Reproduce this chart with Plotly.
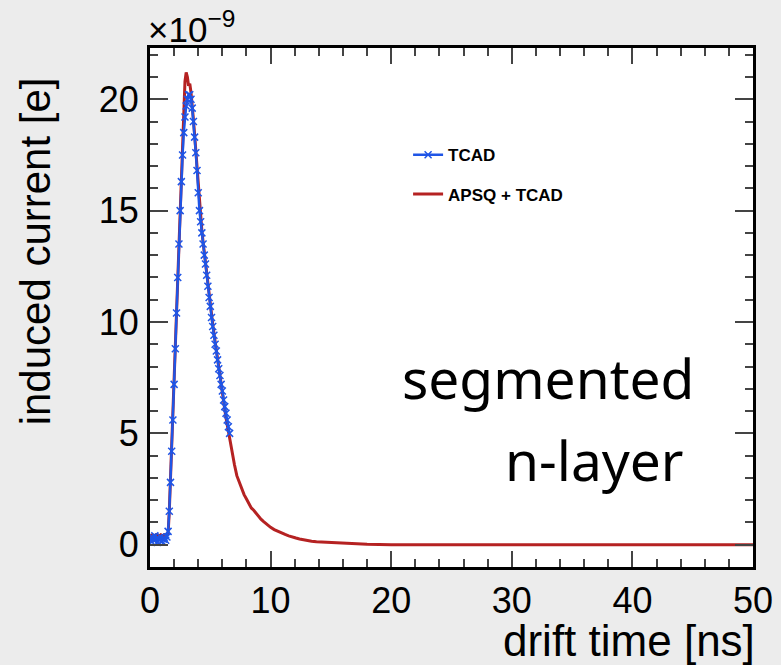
import plotly.graph_objects as go

# ---- data (values in units of 1e-9 e) ----
tcad_t = [round(0.1 * i, 1) for i in range(67)]
tcad_v = [0.30, 0.15, 0.35, 0.20, 0.40, 0.25, 0.10, 0.30, 0.20, 0.35, 0.15, 0.25, 0.30, 0.20, 0.35,
          0.60, 1.50, 2.80, 4.20, 5.60, 7.20, 8.80, 10.4, 12.0, 13.5, 15.0, 16.3, 17.5, 18.5, 19.2,
          19.7, 20.0, 20.2, 20.2, 20.0, 19.6, 19.0, 18.3, 17.6, 16.8, 15.8, 15.0, 14.5, 14.0, 13.5,
          13.0, 12.6, 12.1, 11.6, 11.1, 10.7, 10.2, 9.8, 9.4, 9.0, 8.7, 8.3, 7.9, 7.6, 7.2,
          6.9, 6.5, 6.2, 5.9, 5.6, 5.3, 5.0]

apsq_t = [0.0, 0.1, 0.2, 0.3, 0.4, 0.5, 0.6, 0.7, 0.8, 0.9, 1.0, 1.1, 1.2, 1.3, 1.4,
          1.5, 1.6, 1.7, 1.8, 1.9, 2.0, 2.1, 2.2, 2.3, 2.4, 2.5, 2.6, 2.7, 2.8, 2.9,
          3.0, 3.1, 3.2, 3.3, 3.4, 3.5, 3.6, 3.7, 3.8, 3.9, 4.0, 4.1, 4.2, 4.3, 4.4,
          4.5, 4.6, 4.7, 4.8, 4.9, 5.0, 5.1, 5.2, 5.3, 5.4, 5.5, 5.6, 5.7, 5.8, 5.9,
          6.0, 6.1, 6.2, 6.3, 6.4, 6.5, 6.6, 6.8, 7.0, 7.2, 7.4, 7.6, 7.8, 8.0, 8.2,
          8.4, 8.6, 8.8, 9.0, 9.2, 9.4, 9.6, 9.8, 10.0, 10.3, 10.6, 10.9, 11.2, 11.5, 11.8,
          12.1, 12.4, 12.7, 13.0, 13.4, 13.8, 14.2, 14.6, 15.0, 15.5, 16.0, 16.5, 17.0, 17.5, 18.0,
          19.0, 20.0, 25.0, 30.0, 35.0, 40.0, 45.0, 50.0]
apsq_v = [0.45, 0.40, 0.45, 0.42, 0.40, 0.45, 0.40, 0.43, 0.40, 0.45, 0.42, 0.40, 0.44, 0.40, 0.45,
          0.50, 1.50, 3.00, 4.50, 6.00, 7.50, 9.20, 10.8, 12.4, 14.0, 15.5, 17.0, 18.5, 19.8, 20.8,
          21.2, 21.0, 20.6, 20.7, 20.3, 19.8, 19.1, 18.4, 17.7, 16.9, 16.0, 15.2, 14.6, 14.1, 13.6,
          13.1, 12.6, 12.1, 11.7, 11.2, 10.8, 10.3, 9.9, 9.5, 9.1, 8.7, 8.3, 7.9, 7.5, 7.2,
          6.8, 6.4, 6.1, 5.7, 5.4, 5.1, 4.8, 4.1, 3.6, 3.1, 2.8, 2.5, 2.25, 2.05, 1.85,
          1.65, 1.55, 1.40, 1.28, 1.15, 1.05, 0.95, 0.85, 0.78, 0.68, 0.60, 0.52, 0.46, 0.40, 0.34,
          0.30, 0.26, 0.22, 0.19, 0.16, 0.13, 0.12, 0.09, 0.08, 0.06, 0.06, 0.04, 0.04, 0.03, 0.02,
          0.01, 0.0, 0.0, 0.0, 0.0, 0.0, 0.0, 0.0]

x_ticks = [0, 10, 20, 30, 40, 50]
y_ticks = [0, 5, 10, 15, 20]

BLUE = "#1f55e6"
RED = "#b52222"
TXT = "Liberation Sans, Arial, Helvetica, sans-serif"

fig = go.Figure()
fig.add_trace(go.Scatter(
    x=apsq_t, y=apsq_v, mode="lines", name="APSQ + TCAD", legendgroup="b", legendrank=2,
    line=dict(color=RED, width=3),
))
fig.add_trace(go.Scatter(
    x=tcad_t, y=tcad_v, mode="lines+markers", name="TCAD", legendgroup="a", legendrank=1,
    line=dict(color=BLUE, width=2.5),
    marker=dict(symbol="x-thin", size=7, line=dict(color=BLUE, width=1.5)),
))

axis_common = dict(
    showline=True, linecolor="black", linewidth=3, mirror="allticks",
    ticks="inside", tickcolor="#444", tickwidth=1.5,
    showgrid=False, zeroline=False, automargin=False,
    tickfont=dict(family=TXT, size=36, color="black"),
)
fig.update_xaxes(range=[0, 50], tickvals=x_ticks, ticklen=16,
                 minor=dict(dtick=2, ticklen=8, ticks="inside", tickcolor="#444", tickwidth=1.5, showgrid=False),
                 ticklabelstandoff=0, **axis_common)
fig.update_yaxes(range=[-1, 22.3], tickvals=y_ticks, ticklen=18,
                 minor=dict(dtick=1, ticklen=8, ticks="inside", tickcolor="#444", tickwidth=1.5, showgrid=False),
                 ticklabelstandoff=1, **axis_common)

fig.update_layout(
    width=781, height=665,
    margin=dict(l=150, r=28, t=48, b=98),
    paper_bgcolor="#ececec", plot_bgcolor="white",
    showlegend=True,
    legend=dict(
        x=0.428, y=0.828, xanchor="left", yanchor="top",
        bgcolor="rgba(0,0,0,0)", borderwidth=0,
        font=dict(family=TXT, size=17, color="black", weight="bold"),
        tracegroupgap=14, traceorder="grouped",
    ),
    annotations=[
        dict(text="×10<sup>−9</sup>", xref="paper", yref="paper", x=0, y=1, xanchor="left", yanchor="bottom",
             xshift=-4, yshift=-3, showarrow=False, font=dict(family=TXT, size=35, color="black")),
        dict(text="induced current [e]", xref="paper", yref="paper", x=-0.19, y=0.609,
             xanchor="center", yanchor="middle", textangle=-90, showarrow=False,
             font=dict(family=TXT, size=42, color="black")),
        dict(text="drift time [ns]", xref="paper", yref="paper", x=1.0, y=-0.141,
             xanchor="right", yanchor="middle", xshift=4, showarrow=False,
             font=dict(family=TXT, size=44, color="black")),
        dict(text="segmented", xref="paper", yref="paper", x=0.9055, y=0.3645,
             xanchor="right", yanchor="middle", showarrow=False,
             font=dict(family="Noto Sans", size=55, color="black")),
        dict(text="n-layer", xref="paper", yref="paper", x=0.889, y=0.2066,
             xanchor="right", yanchor="middle", showarrow=False,
             font=dict(family="Noto Sans", size=55, color="black")),
    ],
)

fig.write_html("out.html", config={"displayModeBar": False},
               post_script="document.body.style.margin='0';document.body.style.background='#ececec';")
